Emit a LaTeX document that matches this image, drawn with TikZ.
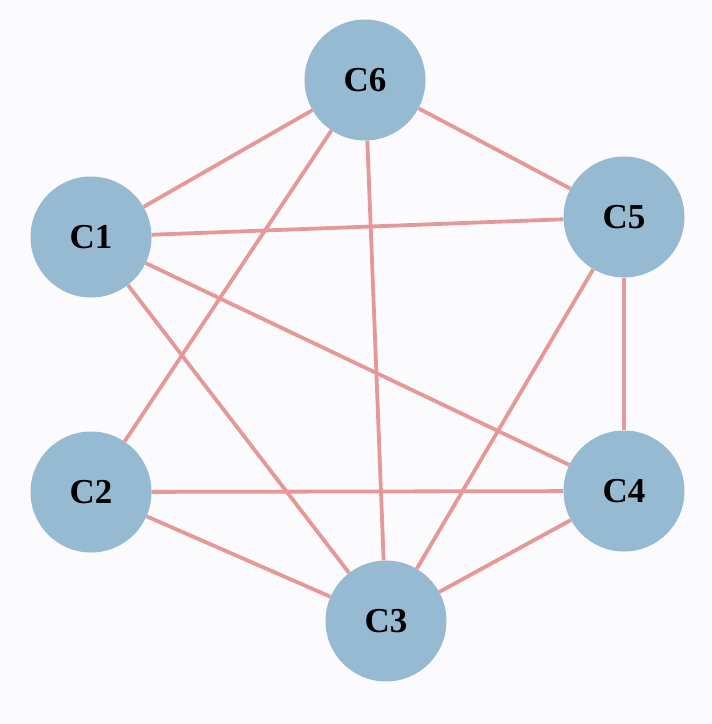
\documentclass[tikz,border=0pt]{standalone}
\usepackage{fontspec}
\setmainfont{Liberation Serif}
\usepackage{xcolor}
\usepackage{tikz}
\usetikzlibrary{positioning}
\definecolor{nodeblue}{RGB}{150,186,210}
\definecolor{edgered}{RGB}{230,152,150}
\definecolor{paper}{RGB}{251,251,253}
\tikzstyle{link} = [line width=3.8pt, draw=edgered]

\begin{document}
\begin{tikzpicture}[x=1pt, y=-1pt,
            cnode/.style={circle, fill=nodeblue, minimum size=121pt, inner sep=0pt, text centered, font=\fontsize{35}{37}\selectfont\bfseries}]

            % Canvas
            \fill[paper] (0,0) rectangle (712,724);
            \useasboundingbox (0,0) rectangle (712,724);

            % Clusters
            \node[cnode] (c6) at (365,80) {C6};
            \node[cnode] (c1) at (91,237) {C1};
            \node[cnode] (c5) at (624,217) {C5};
            \node[cnode] (c2) at (91,492) {C2};
            \node[cnode] (c4) at (624,491) {C4};
            \node[cnode] (c3) at (386,621) {C3};

            % Links
            \draw[link] (c6) -- (c1);
            \draw[link] (c6) -- (c5);
            \draw[link] (c6) -- (c2);
            \draw[link] (c6) -- (c3);
            \draw[link] (c1) -- (c5);
            \draw[link] (c1) -- (c4);
            \draw[link] (c1) -- (c3);
            \draw[link] (c5) -- (c4);
            \draw[link] (c5) -- (c3);
            \draw[link] (c2) -- (c4);
            \draw[link] (c2) -- (c3);
            \draw[link] (c4) -- (c3);
        \end{tikzpicture}
\end{document}
